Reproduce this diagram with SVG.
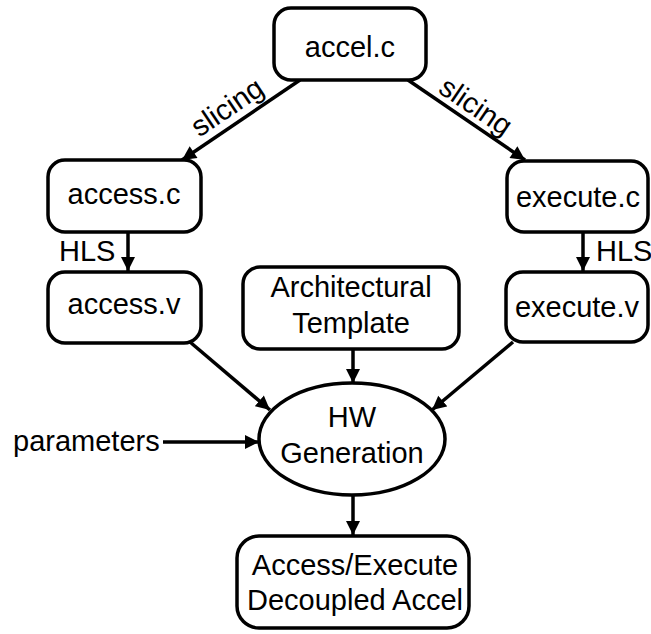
<svg xmlns="http://www.w3.org/2000/svg" width="651" height="634" viewBox="0 0 651 634">
<style>
.box{fill:#fff;stroke:#000;stroke-width:3.5}
.t{font-family:"Liberation Sans",Arial,sans-serif;font-size:29px;fill:#000;text-anchor:middle}
.tl{font-family:"Liberation Sans",Arial,sans-serif;font-size:29px;fill:#000}
.c{fill:none;stroke:#000;stroke-width:3.5}
</style>
<defs>
<marker id="ah" viewBox="0 0 10 10" refX="10" refY="5" markerWidth="4.2" markerHeight="4" orient="auto" markerUnits="strokeWidth">
<path d="M0,0 L10,5 L0,10 Z" fill="#000"/>
</marker>
</defs>
<rect width="651" height="634" fill="#fff"/>
<g id="connectors">
<line class="c" x1="300" y1="80" x2="182" y2="160" marker-end="url(#ah)"/>
<line class="c" x1="408" y1="80" x2="525" y2="160" marker-end="url(#ah)"/>
<line class="c" x1="128" y1="232" x2="128" y2="271" marker-end="url(#ah)"/>
<line class="c" x1="583" y1="232" x2="583" y2="271" marker-end="url(#ah)"/>
<line class="c" x1="190" y1="342" x2="270" y2="410" marker-end="url(#ah)"/>
<line class="c" x1="513" y1="342" x2="432" y2="410" marker-end="url(#ah)"/>
<line class="c" x1="353" y1="349" x2="353" y2="383" marker-end="url(#ah)"/>
<line class="c" x1="163" y1="442" x2="259" y2="442" marker-end="url(#ah)"/>
<line class="c" x1="353" y1="495" x2="353" y2="535" marker-end="url(#ah)"/>
<text class="t" x="227" y="117" transform="rotate(-34 227 107)">slicing</text>
<text class="t" x="476" y="116" transform="rotate(34 476 106)">slicing</text>
<text class="tl" x="59" y="261">HLS</text>
<text class="tl" x="596" y="261">HLS</text>
<text class="tl" x="13" y="451">parameters</text>
</g>
<g id="accel">
<rect class="box" x="274" y="8" width="152" height="72" rx="17"/>
<text class="t" x="350" y="57">accel.c</text>
</g>
<g id="access_c">
<rect class="box" x="48" y="160" width="153" height="72" rx="17"/>
<text class="t" x="124" y="204">access.c</text>
</g>
<g id="execute_c">
<rect class="box" x="507" y="161" width="141" height="71" rx="17"/>
<text class="t" x="578" y="207">execute.c</text>
</g>
<g id="access_v">
<rect class="box" x="48" y="272" width="153" height="71" rx="17"/>
<text class="t" x="124" y="314">access.v</text>
</g>
<g id="template">
<rect class="box" x="243" y="267" width="216" height="82" rx="17"/>
<text class="t" x="351" y="297">Architectural</text>
<text class="t" x="351" y="333">Template</text>
</g>
<g id="execute_v">
<rect class="box" x="506" y="272" width="142" height="70" rx="17"/>
<text class="t" x="577" y="317">execute.v</text>
</g>
<g id="hwgen">
<ellipse class="box" cx="352" cy="439" rx="93" ry="56"/>
<text class="t" x="352" y="427">HW</text>
<text class="t" x="352" y="463">Generation</text>
</g>
<g id="result">
<rect class="box" x="237" y="536" width="232" height="92" rx="22"/>
<text class="t" x="355" y="575">Access/Execute</text>
<text class="t" x="355" y="610">Decoupled Accel</text>
</g>
</svg>
